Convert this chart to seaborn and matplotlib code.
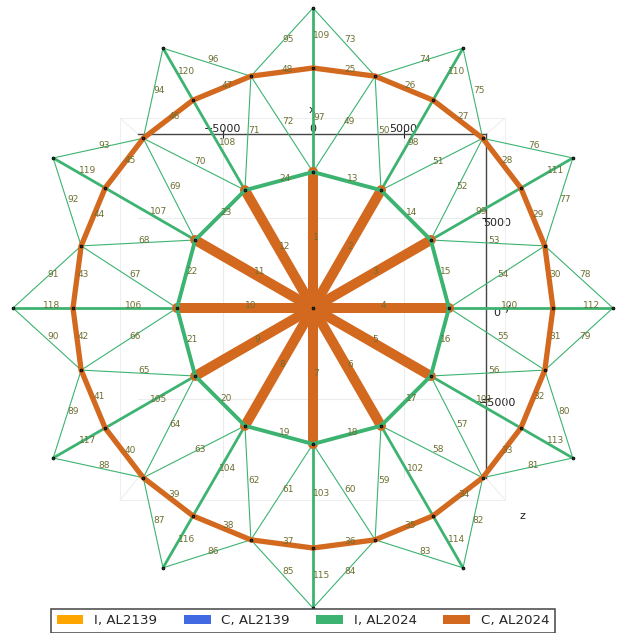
import numpy as np
import pandas as pd
import matplotlib
matplotlib.use("Agg")
import matplotlib.pyplot as plt
import seaborn as sns
from matplotlib.patches import Patch, Rectangle
from matplotlib.lines import Line2D

# dome seen from above: hub + three rings of nodes (radius in mm)
ring_radius = [0, 7514, 13260, 16575]
ring_count = [1, 12, 24, 12]

# element groups, numbered 1..120 like in the picture
group_names = ["spoke", "hoop_in", "hoop_out", "brace", "rib"]
group_first = [1, 13, 25, 49, 97]
group_last = [12, 24, 48, 96, 120]
group_color = ["#D2691E", "#3CB371", "#D2691E", "#3CB371", "#3CB371"]
group_width = [7.2, 2.8, 3.8, 0.8, 2.0]

legend_labels = ["I, AL2139", "C, AL2139", "I, AL2024", "C, AL2024"]
legend_colors = ["orange", "royalblue", "mediumseagreen", "chocolate"]

axis_ticks = [-5000, 0, 5000]

sns.set_theme(style="white")
plt.rcParams["font.family"] = ["DejaVu Sans"]

# node coordinates
xs, ys = [], []
for r, n in zip(ring_radius, ring_count):
    for i in range(n):
        a = np.deg2rad(90 - 360.0 / n * i)
        xs.append(r * np.cos(a))
        ys.append(r * np.sin(a))
xs = np.array(xs)
ys = np.array(ys)

A = lambda k: 1 + k % 12
B = lambda j: 13 + j % 24
D = lambda k: 37 + k % 12

# connectivity
edges = []
edges += [(0, A(k)) for k in range(12)]                      # 1-12
edges += [(A(k), A(k + 1)) for k in range(12)]               # 13-24
edges += [(B(j), B(j + 1)) for j in range(24)]               # 25-48
for k in range(12):                                          # 49-72
    edges += [(A(k), B(2 * k + 1)), (B(2 * k + 1), A(k + 1))]
for k in range(12):                                          # 73-96
    edges += [(D(k), B(2 * k + 1)), (B(2 * k + 1), D(k + 1))]
edges[94], edges[95] = edges[95], edges[94]                  # 95 / 96 swapped in the model
edges += [(A(k), B(2 * k)) for k in range(12)]               # 97-108
edges += [(B(2 * k), D(k)) for k in range(12)]               # 109-120

rows = []
for num, (i, j) in enumerate(edges, start=1):
    g = next(name for name, f, l in zip(group_names, group_first, group_last) if f <= num <= l)
    rows.append({"edge": num, "group": g, "x": xs[i], "y": ys[i], "end": 0})
    rows.append({"edge": num, "group": g, "x": xs[j], "y": ys[j], "end": 1})
df = pd.DataFrame(rows)

W, H = 619, 633
fig = plt.figure(figsize=(W / 100, H / 100), dpi=100)
fig.patch.set_facecolor("white")

# background "axis box" (drawn first, below the structure)
box = [138 / W, 1 - 478 / H, (486 - 138) / W, (478 - 134) / H]
ax2 = fig.add_axes(box)

ax = fig.add_axes([0, 0, 1, 1])
ax.set_facecolor("none")
s = 5000 / 90.5
ax.set_xlim(-313 * s, (W - 313) * s)
ax.set_ylim((308 - H) * s, 308 * s)
ax.axis("off")

# limits of the axis box in the same data units
inv = ax.transData.inverted()
(x0, y0) = inv.transform(fig.transFigure.transform((box[0], box[1])))
(x1, y1) = inv.transform(fig.transFigure.transform((box[0] + box[2], box[1] + box[3])))
ax2.set_xlim(x0, x1)
ax2.set_ylim(y0, y1)
ax2.set_facecolor("white")
ax2.set_xticks(axis_ticks)
ax2.set_yticks(axis_ticks)
ax2.set_xticklabels([f"{t:d}".replace("-", "\u2212") for t in axis_ticks])
ax2.set_yticklabels([f"{t:d}".replace("-", "\u2212") for t in axis_ticks])
ax2.grid(True, color="#ececec", linewidth=0.8)
for side in ["left", "bottom"]:
    ax2.spines[side].set_visible(False)
for side in ["top", "right"]:
    ax2.spines[side].set_color("#444444")
    ax2.spines[side].set_linewidth(1.0)
ax2.tick_params(axis="x", top=True, bottom=False, labeltop=True, labelbottom=False,
                direction="inout", length=6, width=0.8, pad=-3, labelsize=8, colors="#222222")
ax2.tick_params(axis="y", right=True, left=False, labelright=True, labelleft=False,
                direction="inout", length=6, width=0.8, pad=5, labelsize=8, colors="#222222")
plt.setp(ax2.get_yticklabels(), ha="center", va="top")
ax2.set_xlabel("x", fontsize=8, color="#222222")
ax2.xaxis.set_label_position("top")
ax2.xaxis.set_label_coords(0.5, (478 - 110) / 344)
ax2.xaxis.label.set_va("center")
ax2.set_ylabel("y", fontsize=8, color="#222222", rotation=0)
ax2.yaxis.set_label_position("right")
ax2.yaxis.set_label_coords((507 - 138) / 348, (478 - 308) / 344)
ax2.yaxis.label.set_va("center")
ax2.yaxis.label.set_ha("center")
# faint outer pane
ox0, ox1, oy0, oy1 = -18 / 348, 367 / 348, -22 / 344, 360 / 344
ax2.add_patch(Rectangle((ox0, oy0), ox1 - ox0, oy1 - oy0, transform=ax2.transAxes,
                        fill=False, edgecolor="#efefef", linewidth=0.8, clip_on=False))
for (a, b) in [((ox0, oy1), (0, 1)), ((ox1, oy1), (1, 1)), ((ox0, oy0), (0, 0)), ((ox1, oy0), (1, 0))]:
    ax2.add_line(Line2D([a[0], b[0]], [a[1], b[1]], transform=ax2.transAxes,
                        color="#efefef", linewidth=0.8, clip_on=False))
fig.text(522 / W, 1 - 516 / H, "z", ha="center", va="center", fontsize=8, color="#222222")

# members
order = ["brace", "rib", "hoop_out", "spoke", "hoop_in"]
for g in order:
    gi = group_names.index(g)
    sub = df[df["group"] == g]
    sns.lineplot(data=sub, x="x", y="y", units="edge", estimator=None, sort=False,
                 color=group_color[gi], linewidth=group_width[gi], ax=ax, legend=False)

sns.scatterplot(x=xs, y=ys, s=4, color="#333333", edgecolor="black", linewidth=0.6,
                ax=ax, zorder=5, legend=False)

for num, (i, j) in enumerate(edges, start=1):
    ax.text((xs[i] + xs[j]) / 2, (ys[i] + ys[j]) / 2, str(num), fontsize=6.5,
            color="#6e6e32", ha="left", va="baseline", zorder=6)

ax.set_xlabel("")
ax.set_ylabel("")

handles = [Patch(facecolor=c, edgecolor="none") for c in legend_colors]
leg = fig.legend(handles, legend_labels, loc="upper center", ncol=4,
                 bbox_to_anchor=(303 / W, 1 - 609 / H), borderaxespad=0,
                 fontsize=9.6, frameon=True, fancybox=False, framealpha=1,
                 edgecolor="#444444")
leg.get_frame().set_linewidth(1.1)

fig.savefig("out.png", dpi=100)
